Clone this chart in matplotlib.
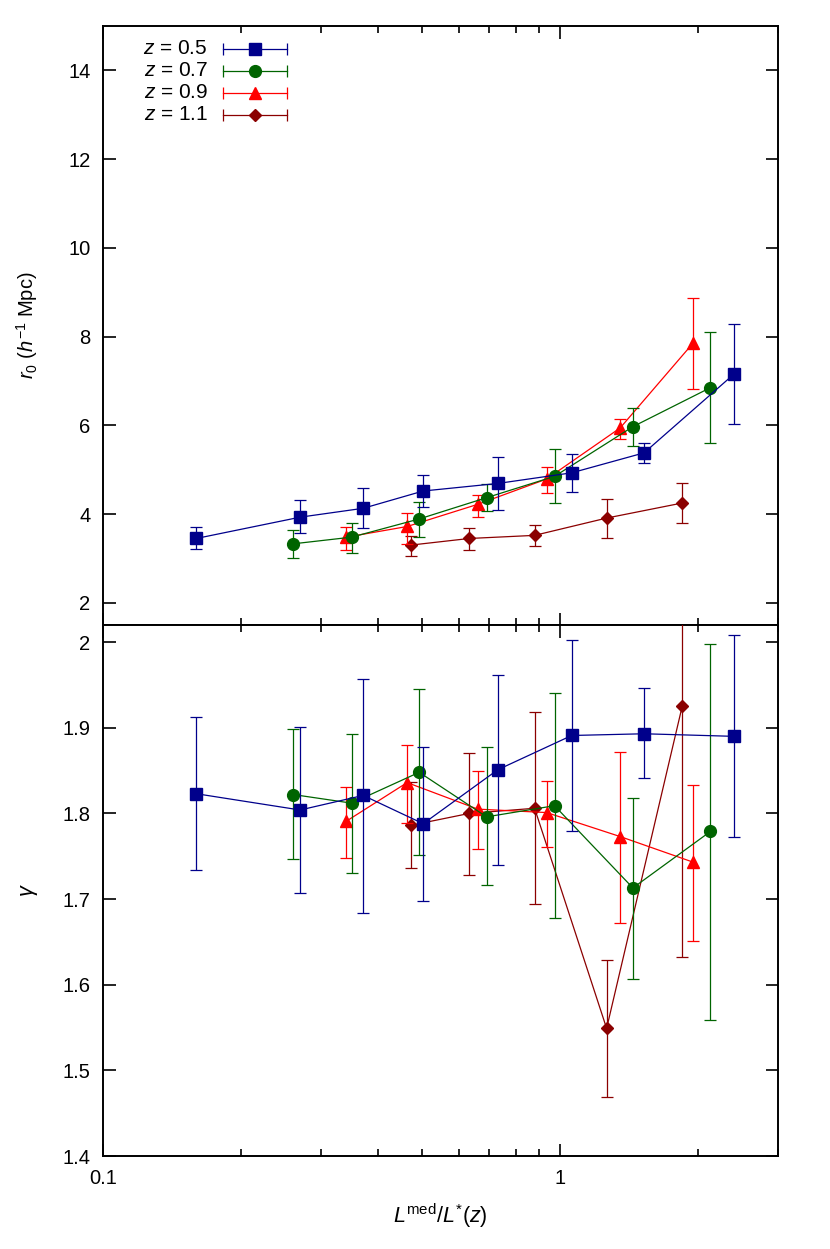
import numpy as np
import matplotlib
matplotlib.use('Agg')
import matplotlib.pyplot as plt
from matplotlib.ticker import FuncFormatter

plt.rcParams['font.family'] = ['Liberation Sans', 'DejaVu Sans']
plt.rcParams['mathtext.fontset'] = 'custom'
plt.rcParams['mathtext.rm'] = 'Liberation Sans'
plt.rcParams['mathtext.it'] = 'Liberation Sans:italic'
plt.rcParams['mathtext.bf'] = 'Liberation Sans:bold'

# ---- data ----
z_labels = ['0.5', '0.7', '0.9', '1.1']
colors = ['#00008b', '#006400', '#ff0000', '#8b0000']
markers = ['s', 'o', '^', 'D']
msizes = [8.5, 8.5, 8.5, 6.5]

# luminosity ratio L_med / L*(z)
L_05 = [0.160, 0.270, 0.371, 0.502, 0.731, 1.061, 1.528, 2.40]
L_07 = [0.261, 0.350, 0.492, 0.691, 0.973, 1.444, 2.135]
L_09 = [0.341, 0.463, 0.661, 0.935, 1.354, 1.958]
L_11 = [0.471, 0.633, 0.880, 1.265, 1.853]

# r0 and its error bar ends
r0_05 = [3.45, 3.93, 4.13, 4.52, 4.69, 4.93, 5.38, 7.15]
r0_05_lo = [3.21, 3.57, 3.68, 4.15, 4.10, 4.49, 5.14, 6.04]
r0_05_hi = [3.70, 4.31, 4.58, 4.88, 5.28, 5.36, 5.61, 8.28]
r0_07 = [3.33, 3.48, 3.89, 4.37, 4.85, 5.97, 6.85]
r0_07_lo = [3.01, 3.13, 3.48, 4.06, 4.24, 5.54, 5.60]
r0_07_hi = [3.65, 3.80, 4.28, 4.68, 5.47, 6.40, 8.10]
r0_09 = [3.48, 3.72, 4.22, 4.79, 5.94, 7.86]
r0_09_lo = [3.18, 3.33, 3.93, 4.47, 5.70, 6.81]
r0_09_hi = [3.71, 4.03, 4.44, 5.05, 6.14, 8.86]
r0_11 = [3.30, 3.45, 3.52, 3.91, 4.25]
r0_11_lo = [3.06, 3.20, 3.27, 3.47, 3.79]
r0_11_hi = [3.51, 3.68, 3.76, 4.34, 4.71]

# gamma and its error bar ends
g_05 = [1.823, 1.804, 1.821, 1.788, 1.851, 1.891, 1.893, 1.890]
g_05_lo = [1.734, 1.707, 1.684, 1.698, 1.740, 1.779, 1.841, 1.773]
g_05_hi = [1.913, 1.901, 1.957, 1.878, 1.962, 2.003, 1.946, 2.008]
g_07 = [1.822, 1.812, 1.848, 1.796, 1.809, 1.713, 1.779]
g_07_lo = [1.747, 1.730, 1.752, 1.716, 1.678, 1.607, 1.559]
g_07_hi = [1.898, 1.893, 1.945, 1.878, 1.941, 1.818, 1.998]
g_09 = [1.791, 1.836, 1.805, 1.801, 1.773, 1.743]
g_09_lo = [1.748, 1.789, 1.759, 1.761, 1.672, 1.651]
g_09_hi = [1.831, 1.880, 1.850, 1.838, 1.872, 1.833]
g_11 = [1.786, 1.800, 1.806, 1.549, 1.926]
g_11_lo = [1.736, 1.728, 1.694, 1.469, 1.632]
g_11_hi = [1.837, 1.870, 1.919, 1.629, 2.220]

L_all = [L_05, L_07, L_09, L_11]
r0_all = [(r0_05, r0_05_lo, r0_05_hi), (r0_07, r0_07_lo, r0_07_hi),
          (r0_09, r0_09_lo, r0_09_hi), (r0_11, r0_11_lo, r0_11_hi)]
g_all = [(g_05, g_05_lo, g_05_hi), (g_07, g_07_lo, g_07_hi),
         (g_09, g_09_lo, g_09_hi), (g_11, g_11_lo, g_11_hi)]

FS = 14.5
W, H = 830, 1249
x_l, x_r = 103, 778
fig = plt.figure(figsize=(W / 100, H / 100), dpi=100)
ax1 = fig.add_axes([x_l / W, 1 - 625 / H, (x_r - x_l) / W, 599 / H])
ax2 = fig.add_axes([x_l / W, 1 - 1156 / H, (x_r - x_l) / W, 531 / H])


def draw(ax, L, vals, c, m, ms, z):
    y, lo, hi = (np.array(v) for v in vals)
    yerr = [y - lo, hi - y]
    ax.errorbar(L, y, yerr=yerr, color=c, lw=0.9, elinewidth=0.9,
                capsize=4.2, capthick=0.9, marker=m, ms=ms, mec=c, mfc=c,
                zorder=z)


for i in [3, 2, 1, 0]:
    z = 10 - i
    draw(ax1, L_all[i], r0_all[i], colors[i], markers[i], msizes[i], z)
    draw(ax2, L_all[i], g_all[i], colors[i], markers[i], msizes[i], z)

fmt = FuncFormatter(lambda v, p: '%g' % v)
for ax in (ax1, ax2):
    ax.set_xscale('log')
    ax.set_xlim(0.1, 3.0)
    ax.set_xticks([0.1, 1])
    ax.set_xticks([0.2, 0.3, 0.4, 0.5, 0.6, 0.7, 0.8, 0.9, 2, 3], minor=True)
    ax.xaxis.set_minor_formatter(plt.NullFormatter())
    ax.tick_params(which='both', direction='in', top=True, right=True,
                   labelsize=FS, width=1.2)
    ax.tick_params(which='major', length=9, pad=9)
    ax.tick_params(which='minor', length=4.7)
    ax.yaxis.set_major_formatter(fmt)
    for s in ax.spines.values():
        s.set_linewidth(1.4)

ax1.set_ylim(1.5, 15)
ax1.set_yticks([2, 4, 6, 8, 10, 12, 14])
ax1.tick_params(labelbottom=False)
ax2.set_ylim(1.4, 2.02)
ax2.set_yticks([1.4, 1.5, 1.6, 1.7, 1.8, 1.9, 2.0])
ax2.set_xticklabels(['0.1', '1'])

ax1.set_ylabel(r'$r_{\mathit{0}}$ $(h^{\mathrm{-1}}$ Mpc)', fontsize=FS)
ax1.yaxis.set_label_coords(-0.093, 0.5)
ax2.set_ylabel(r'$\gamma$', fontsize=FS + 1)
ax2.yaxis.set_label_coords(-0.093, 0.5)
ax2.set_xlabel(r'$L^{\mathrm{med}}/L^{*}(z)$', fontsize=FS + 1, labelpad=10)

# gnuplot-style key: label on the left, horizontal error-bar sample on the right
row_y = [49, 71, 93, 115]
aw = x_r - x_l
for i in range(4):
    yy = 1 - (row_y[i] - 26) / 599
    x_txt = (208 - x_l) / aw
    x0, x1, xm = (223 - x_l) / aw, (287 - x_l) / aw, (255 - x_l) / aw
    ax1.text(x_txt, yy, r'$z$ = ' + z_labels[i], transform=ax1.transAxes,
             ha='right', va='center', fontsize=FS + 0.5)
    ax1.plot([x0, x1], [yy, yy], transform=ax1.transAxes, color=colors[i],
             lw=0.9, marker='|', ms=9, mew=0.9)
    ax1.plot([xm], [yy], transform=ax1.transAxes, color=colors[i],
             marker=markers[i], ms=msizes[i], ls='none')

fig.savefig('out.png', dpi=100)
